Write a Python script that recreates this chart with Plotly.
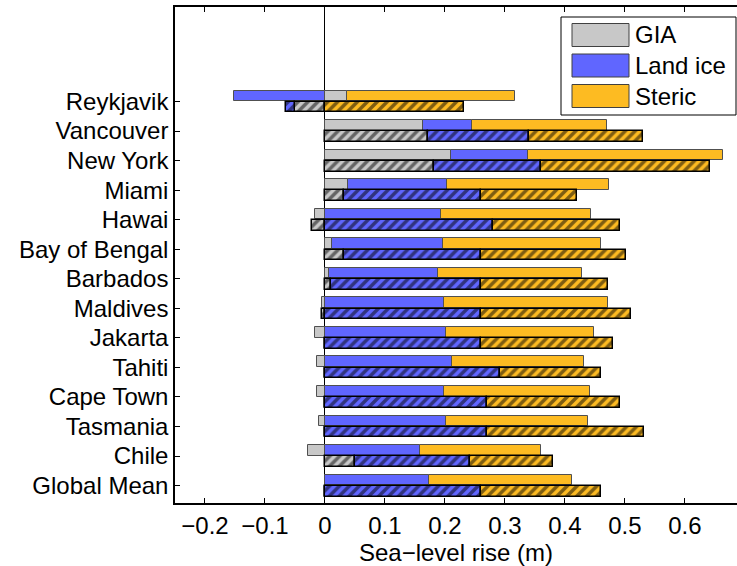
import plotly.graph_objects as go

# ---- data (bottom to top) ----
locations = ["Global Mean", "Chile", "Tasmania", "Cape Town", "Tahiti", "Jakarta",
             "Maldives", "Barbados", "Bay of Bengal", "Hawai", "Miami", "New York",
             "Vancouver", "Reykjavik"]

# upper (plain) bars
gia_a   = [0.000, -0.029, -0.010, -0.014, -0.013, -0.017, -0.005, 0.007, 0.011, -0.016, 0.038, 0.210, 0.164, 0.037]
land_a  = [0.174, 0.159, 0.201, 0.198, 0.212, 0.201, 0.199, 0.181, 0.186, 0.193, 0.165, 0.129, 0.082, -0.151]
steric_a = [0.238, 0.202, 0.238, 0.244, 0.220, 0.247, 0.273, 0.241, 0.263, 0.251, 0.271, 0.324, 0.225, 0.280]

# lower (hatched) bars
gia_b   = [0.000, 0.050, 0.000, 0.000, 0.000, 0.000, -0.005, 0.010, 0.031, -0.021, 0.031, 0.181, 0.171, -0.050]
land_b  = [0.261, 0.191, 0.271, 0.271, 0.292, 0.261, 0.261, 0.251, 0.230, 0.281, 0.230, 0.180, 0.170, -0.015]
steric_b = [0.200, 0.140, 0.261, 0.221, 0.169, 0.220, 0.250, 0.211, 0.241, 0.211, 0.160, 0.281, 0.190, 0.231]

x_tickvals = [-0.2, -0.1, 0, 0.1, 0.2, 0.3, 0.4, 0.5, 0.6]
x_ticktext = ["\u22120.2", "\u22120.1", "0", "0.1", "0.2", "0.3", "0.4", "0.5", "0.6"]

series_names = ["GIA", "Land ice", "Steric"]
colors = ["#C8C8C8", "#6066FF", "#FDBB22"]

FONT = "Liberation Sans, Arial, Helvetica, sans-serif"
pos = list(range(1, len(locations) + 1))
off = 0.19
bw = 0.36

fig = go.Figure()
for name, vals, col in zip(series_names, [gia_a, land_a, steric_a], colors):
    fig.add_trace(go.Bar(
        y=[p + off for p in pos], x=vals, orientation="h", width=bw, name=name,
        marker=dict(color=col, line=dict(color="#505050", width=1)),
        showlegend=False))
for name, vals, col in zip(series_names, [gia_b, land_b, steric_b], colors):
    fig.add_trace(go.Bar(
        y=[p - off for p in pos], x=vals, orientation="h", width=bw, name=name + " (hatched)",
        marker=dict(color=col, line=dict(color="black", width=1.5),
                    pattern=dict(shape="/", fgcolor="black", bgcolor=col, size=7, solidity=0.5)),
        showlegend=False))

# ---- manual legend (large swatches like the reference) ----
L = 175; T = 7; W = 562; H = 496
def px(x): return (x - L) / W
def py(y): return (T + H - y) / H

shapes = [dict(type="rect", xref="paper", yref="paper", x0=px(561), x1=px(736), y0=py(115), y1=py(17),
               fillcolor="white", line=dict(color="black", width=1), layer="above")]
annots = []
rows = [35, 65.5, 96]
for name, col, yc in zip(series_names, colors, rows):
    shapes.append(dict(type="rect", xref="paper", yref="paper", x0=px(572), x1=px(629),
                       y0=py(yc + 11.5), y1=py(yc - 11.5), fillcolor=col,
                       line=dict(color="#404040", width=1), layer="above"))
    annots.append(dict(xref="paper", yref="paper", x=px(633), y=py(yc), text=name, showarrow=False,
                       xanchor="left", yanchor="middle", font=dict(size=24, color="black", family=FONT)))

fig.update_layout(
    barmode="relative",
    width=737, height=566,
    margin=dict(l=L, r=0, t=T, b=566 - T - H),
    plot_bgcolor="white", paper_bgcolor="white",
    font=dict(family=FONT, size=24, color="black"),
    shapes=shapes, annotations=annots,
    bargap=0,
)
fig.update_xaxes(
    range=[-0.25, 0.687], tickvals=x_tickvals, ticktext=x_ticktext,
    ticks="inside", ticklen=5, tickcolor="black", tickwidth=1,
    showline=True, linecolor="black", linewidth=1.5, mirror="ticks",
    showgrid=False, zeroline=True, zerolinecolor="black", zerolinewidth=1,
    title=dict(text="Sea\u2212level rise (m)", font=dict(size=24), standoff=7),
    tickfont=dict(size=24),
)
fig.update_yaxes(
    range=[0.41, 17.2], tickvals=pos, ticktext=locations,
    ticks="inside", ticklen=5, tickcolor="black", tickwidth=1,
    showline=True, linecolor="black", linewidth=1.5,
    showgrid=False, zeroline=False, tickfont=dict(size=24),
)

fig.write_html("out.html")
